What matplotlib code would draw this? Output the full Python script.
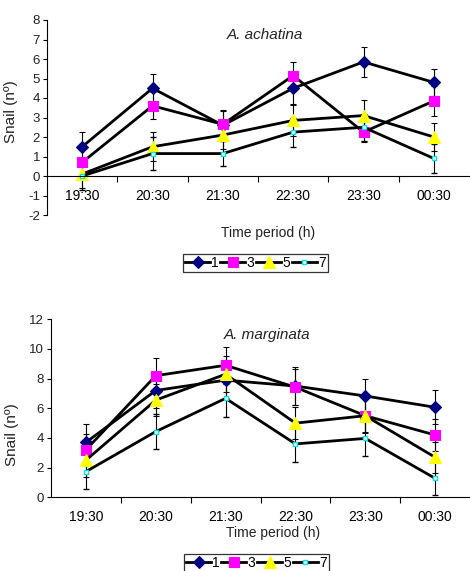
import matplotlib
matplotlib.use('Agg')
import matplotlib.pyplot as plt
from matplotlib.lines import Line2D
import numpy as np

plt.rcParams['font.family'] = ['Liberation Sans', 'DejaVu Sans']

times = ['19:30', '20:30', '21:30', '22:30', '23:30', '00:30']
series_labels = ['1', '3', '5', '7']

# A. achatina
ach_1 = [1.5, 4.5, 2.6, 4.5, 5.85, 4.8]
ach_3 = [0.7, 3.6, 2.65, 5.15, 2.25, 3.85]
ach_5 = [0.1, 1.5, 2.1, 2.85, 3.1, 2.0]
ach_7 = [0.0, 1.15, 1.15, 2.25, 2.5, 0.9]
ach_err_1 = [0.75, 0.75, 0.8, 0.8, 0.75, 0.7]
ach_err_3 = [0.7, 0.7, 0.7, 0.7, 0.5, 0.75]
ach_err_5 = [0.7, 0.75, 0.7, 0.8, 0.8, 0.7]
ach_err_7 = [0.7, 0.85, 0.65, 0.75, 0.7, 0.75]

# A. marginata
mar_1 = [3.7, 7.2, 7.9, 7.5, 6.83, 6.07]
mar_3 = [3.2, 8.2, 8.9, 7.42, 5.5, 4.2]
mar_5 = [2.5, 6.55, 8.3, 5.0, 5.5, 2.7]
mar_7 = [1.73, 4.43, 6.67, 3.6, 3.97, 1.28]
mar_err_1 = [1.25, 1.2, 1.2, 1.3, 1.15, 1.15]
mar_err_3 = [1.1, 1.2, 1.25, 1.2, 1.1, 1.05]
mar_err_5 = [1.15, 1.1, 1.2, 1.1, 1.15, 1.05]
mar_err_7 = [1.2, 1.2, 1.25, 1.2, 1.2, 1.1]

styles = [
    dict(marker='D', ms=6.5, mfc='#000080', mec='#000080', mew=0.8),
    dict(marker='s', ms=7, mfc='#FF00FF', mec='#FF00FF', mew=0.8),
    dict(marker='^', ms=8, mfc='#FFFF00', mec='#FFFF00', mew=0.8),
    dict(marker='s', ms=3.5, mfc='white', mec='#00E5E5', mew=1.0),
]

W, H = 470, 571
fig = plt.figure(figsize=(W / 100, H / 100), dpi=100)
txt = '#222222'


def px(x, y):
    return x / W, 1 - y / H


def make_panel(rect, data, errs, ylim, yticks, title, title_xy, xlabel_xy,
               ylabel_xy, legend_xy):
    ax = fig.add_axes(rect)
    xs = np.arange(len(times))
    for vals, e, st in zip(data, errs, styles):
        ax.errorbar(xs, vals, yerr=e, color='black', lw=2.0, ecolor='black',
                    elinewidth=0.8, capsize=2.5, capthick=0.8, **st)
    ax.set_xlim(-0.5, len(times) - 0.5)
    ax.set_ylim(*ylim)
    ax.set_yticks(yticks)
    ax.set_yticklabels([str(t) for t in yticks], fontsize=9.5, color=txt)
    ax.tick_params(axis='y', direction='out', length=3, width=0.8, pad=2)
    ax.set_xticks(np.arange(len(times) - 1) + 0.5)
    ax.set_xticklabels([])
    ax.set_xticks(xs, minor=True)
    ax.set_xticklabels(times, minor=True, fontsize=9.5, color=txt)
    ax.tick_params(axis='x', which='major', direction='out', length=4,
                   width=0.8)
    ax.tick_params(axis='x', which='minor', length=0, pad=9)
    ax.spines['top'].set_visible(False)
    ax.spines['right'].set_visible(False)
    ax.spines['bottom'].set_position(('data', 0))
    ax.spines['bottom'].set_linewidth(0.8)
    ax.spines['left'].set_linewidth(0.8)
    ax.set_ylabel('Snail (nº)', fontsize=11, color=txt)
    ax.yaxis.set_label_coords(*ylabel_xy, transform=fig.transFigure)
    fig.text(*px(*title_xy), title, fontsize=11, style='italic', color=txt,
             ha='center', va='center')
    fig.text(*px(*xlabel_xy), 'Time period (h)', fontsize=10, color=txt,
             ha='center', va='center')
    handles = [Line2D([], [], color='black', lw=2.0, **st) for st in styles]
    leg = fig.legend(handles, series_labels, loc='upper left',
                     bbox_to_anchor=px(*legend_xy), ncol=4, fontsize=10,
                     frameon=True, fancybox=False, edgecolor='black',
                     handlelength=1.8, handletextpad=0.1, columnspacing=0.1,
                     borderpad=0.15, borderaxespad=0)
    leg.get_frame().set_linewidth(0.9)
    return ax


make_panel([47 / W, 1 - 215 / H, 422 / W, 195 / H],
           [ach_1, ach_3, ach_5, ach_7],
           [ach_err_1, ach_err_3, ach_err_5, ach_err_7],
           (-2, 8), list(range(-2, 9)), 'A. achatina', (265, 35), (268, 233),
           px(18, 112), (183, 254))

make_panel([51 / W, 1 - 497.3 / H, 419 / W, 178 / H],
           [mar_1, mar_3, mar_5, mar_7],
           [mar_err_1, mar_err_3, mar_err_5, mar_err_7],
           (0, 12), list(range(0, 13, 2)), 'A. marginata', (267, 335),
           (273, 533), px(19, 435), (184, 554))

fig.savefig('out.png', dpi=100)
